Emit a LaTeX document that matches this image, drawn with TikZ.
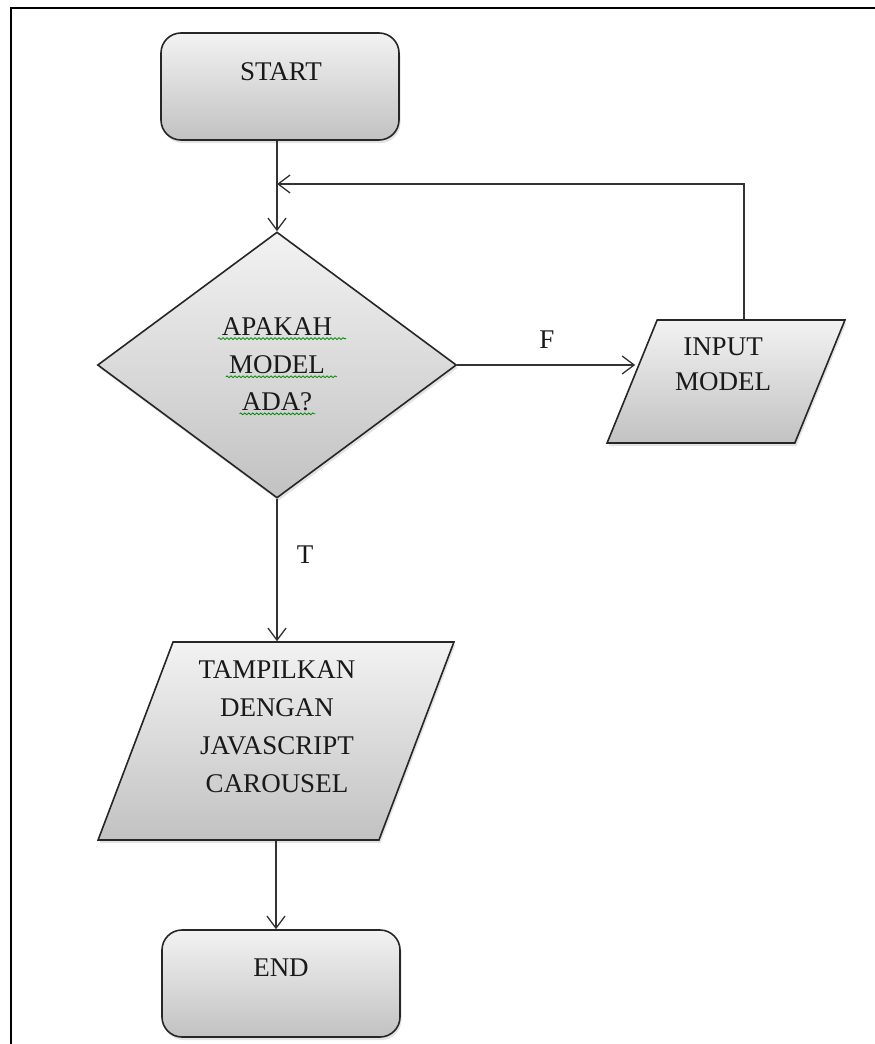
\documentclass[tikz,border=0pt]{standalone}
\usepackage{fontspec}
\setmainfont{Liberation Serif}
\usetikzlibrary{shapes.geometric,arrows.meta,shadows,decorations.pathmorphing,calc}

\begin{document}
\begin{tikzpicture}[x=1pt,y=-1pt,
  box/.style={draw=black!85, line width=1.6pt, top color=black!5, bottom color=black!24,
    drop shadow={opacity=0.22, shadow xshift=1.5pt, shadow yshift=-3pt}},
  term/.style={box, rounded corners=20pt, minimum width=238pt, minimum height=107pt, inner sep=0pt},
  decision/.style={box, diamond, minimum width=359pt, minimum height=266pt, inner sep=0pt},
  io/.style={box, trapezium, trapezium left angle=70, trapezium right angle=110,
    trapezium stretches=true, inner sep=2pt},
  txt/.style={inner sep=0pt, text=black!90, align=center, font=\fontsize{27}{38}\selectfont},
  arr/.style={draw=black!80, line width=1.3pt, -{Straight Barb[length=12pt,width=18pt]}},
  wavy/.style={draw=green!55!black, line width=0.8pt, decorate,
    decoration={snake, amplitude=0.9pt, segment length=4pt}}
]
\useasboundingbox (0,0) rectangle (875,1044);

% page frame (left and top edges)
\draw[line width=2.8pt] (11,1044) -- (11,8) -- (875,8);

% shapes
\node[term] (start) at (280,86.5) {};
\node[decision] (dec) at (277,365) {};
\node[io, minimum width=238pt, minimum height=123pt] (inp) at (726,381.5) {};
\node[io, minimum width=356pt, minimum height=198pt] (tamp) at (276,741) {};
\node[term] (end) at (281,983.5) {};

% texts
\node[txt] (startT) at (281,72) {START};
\node[txt] (q1) at (277,327) {APAKAH};
\node[txt] (q2) at (277,365) {MODEL};
\node[txt] (q3) at (277,402) {ADA?};
\node[txt, font=\fontsize{27}{35}\selectfont] (inpT) at (723,364.5) {INPUT\\MODEL};
\node[txt] (tampT) at (277,726.5) {TAMPILKAN\\DENGAN\\JAVASCRIPT\\CAROUSEL};
\node[txt] (endT) at (281,968) {END};
\node[txt] (lblF) at (547,340) {F};
\node[txt] (lblT) at (305,555) {T};

% spelling marks under the question
\draw[wavy] ([xshift=-4pt,yshift=-2.5pt]q1.south west) -- ([xshift=14pt,yshift=-2.5pt]q1.south east);
\draw[wavy] ([xshift=-3pt,yshift=-2.5pt]q2.south west) -- ([xshift=12pt,yshift=-2.5pt]q2.south east);
\draw[wavy] ([xshift=-2pt,yshift=-2.5pt]q3.south west) -- ([xshift=3pt,yshift=-2.5pt]q3.south east);

% connectors
\coordinate (merge) at (277,184);
\draw[arr] (start.south -| dec.north) -- (dec.north);
\draw[arr] (dec.east) -- ($(dec.east -| inp.west)+(4,0)$);
\draw[arr] ([xshift=18pt]inp.north) |- (merge);
\draw[arr] (dec.south) -- (dec.south |- tamp.north);
\draw[arr] (tamp.south) -- (tamp.south |- end.north);
\end{tikzpicture}
\end{document}
